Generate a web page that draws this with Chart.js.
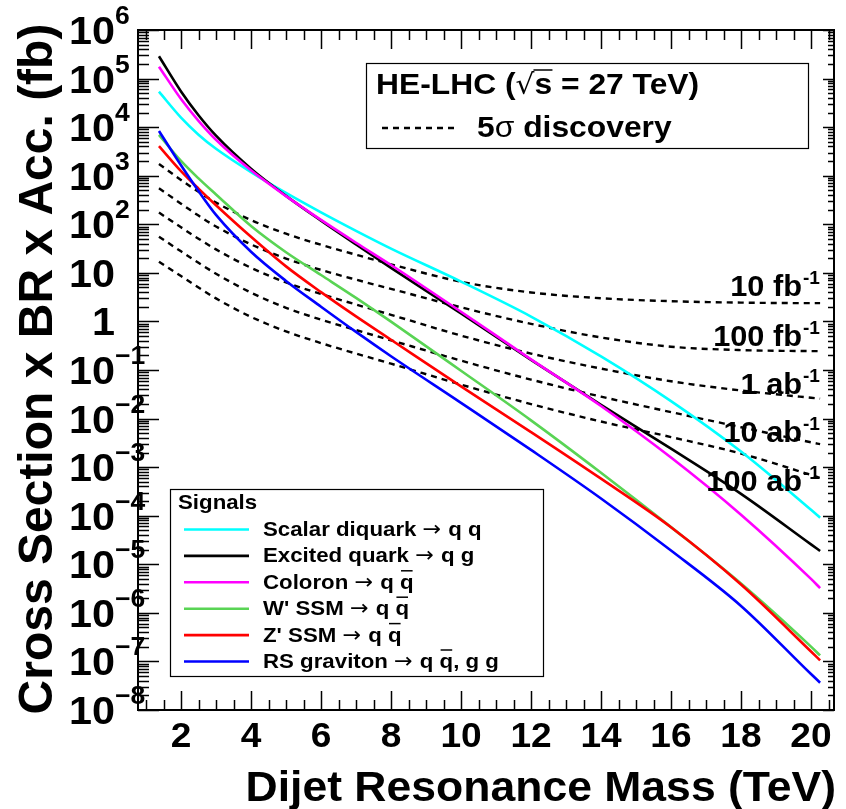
<!DOCTYPE html>
<html>
<head>
<meta charset="utf-8">
<title>Dijet resonances at HE-LHC</title>
<script src="https://cdn.jsdelivr.net/npm/chart.js@4.4.1/dist/chart.umd.min.js"></script>
<style>
  html, body { margin: 0; padding: 0; background: #fff; }
  canvas { display: block; }
</style>
</head>
<body>
<canvas id="chart" width="846" height="809"></canvas>
<script>
const mass = [1.37, 2, 2.5, 3, 4, 5, 6, 7, 8, 10, 12, 14, 16, 18, 20, 20.26];

// signal cross section x BR x acceptance (fb)
const scalarDiquark = [5.37e4, 1.57e4, 7.0e3, 3.59e3, 1.19e3, 442, 176, 73.3, 31.6, 6.61, 1.26, 0.191, 0.0229, 2.09e-3, 1.32e-4, 9.1e-5];
const excitedQuark  = [2.88e5, 5.43e4, 1.76e4, 6.68e3, 1.40e3, 385, 119, 38.5, 12.7, 1.46, 0.162, 0.0191, 2.40e-3, 2.82e-4, 2.57e-5, 1.88e-5];
const coloron       = [1.76e5, 3.8e4, 1.35e4, 5.5e3, 1.29e3, 380, 123, 41.7, 14.5, 1.58, 0.166, 0.0182, 1.58e-3, 1.05e-4, 5.0e-6, 3.24e-6];
const wPrime        = [6.92e3, 2.02e3, 881, 412, 92.3, 26.6, 9.02, 3.05, 0.989, 0.0966, 9.2e-3, 7.67e-4, 5.82e-5, 4.03e-6, 2.02e-7, 1.33e-7];
const zPrime        = [4.07e3, 1.24e3, 541, 247, 55.3, 13.6, 4.01, 1.27, 0.42, 0.046, 5.28e-3, 5.79e-4, 5.79e-5, 3.83e-6, 1.6e-7, 1.05e-7];
const rsGraviton    = [8.32e3, 1.64e3, 483, 156, 27.2, 6.82, 2.01, 0.608, 0.192, 0.0211, 2.26e-3, 2.26e-4, 1.92e-5, 1.39e-6, 5.5e-8, 3.65e-8];

// 5 sigma discovery reach (fb) for each integrated luminosity
const disc10fb  = [1.74e3, 817, 465, 280, 122, 64.1, 37.8, 23.6, 15.0, 6.56, 3.95, 3.0, 2.61, 2.44, 2.38, 2.38];
const disc100fb = [550, 266, 151, 90.2, 38.5, 19.7, 11.5, 7.24, 4.68, 1.95, 0.891, 0.468, 0.302, 0.257, 0.245, 0.244];
const disc1ab   = [174, 86.7, 50.5, 30.4, 12.7, 6.35, 3.66, 2.23, 1.37, 0.511, 0.218, 0.107, 0.0586, 0.0378, 0.0268, 0.0257];
const disc10ab  = [55.5, 27.7, 16.1, 9.6, 3.91, 1.91, 1.09, 0.664, 0.409, 0.156, 0.0634, 0.0283, 0.0136, 6.64e-3, 3.25e-3, 2.97e-3];
const disc100ab = [17.0, 8.59, 5.0, 2.98, 1.24, 0.622, 0.358, 0.218, 0.135, 0.05, 0.0199, 8.69e-3, 4.16e-3, 1.9e-3, 6.9e-4, 6.0e-4];

const lumiLabels = ['10 fb', '100 fb', '1 ab', '10 ab', '100 ab'];
const signalNames = ['Scalar diquark', 'Excited quark', 'Coloron', "W' SSM", "Z' SSM", 'RS graviton'];
const xTicks = [2, 4, 6, 8, 10, 12, 14, 16, 18, 20];
const yDecades = [6, 5, 4, 3, 2, 1, 0, -1, -2, -3, -4, -5, -6, -7, -8];

const FONT = '"Liberation Sans", Arial, Helvetica, sans-serif';
const GREEN = '#59d454';
const colors = ['#00ffff', '#000000', '#ff00ff', GREEN, '#ff0000', '#0000ff'];
const SX = 1.06; // the original text is a little wider than Liberation Sans

const pts = arr => mass.map((m, i) => ({ x: m, y: arr[i] }));

const signalSets = [scalarDiquark, excitedQuark, coloron, wPrime, zPrime, rsGraviton].map((arr, i) => ({
  label: signalNames[i],
  data: pts(arr),
  borderColor: colors[i],
  borderWidth: 2.6,
}));
const discSets = [disc10fb, disc100fb, disc1ab, disc10ab, disc100ab].map((arr, i) => ({
  label: lumiLabels[i],
  data: pts(arr),
  borderColor: '#000',
  borderWidth: 2.4,
  borderDash: [6, 5],
}));

// text drawn slightly stretched, returns its width
function text(ctx, s, x, y, font, align) {
  ctx.save();
  ctx.font = font;
  ctx.textAlign = align || 'left';
  ctx.translate(x, y);
  ctx.scale(SX, 1);
  ctx.fillText(s, 0, 0);
  const w = ctx.measureText(s).width * SX;
  ctx.restore();
  return w;
}

// ROOT-style frame, ticks, labels and the two legend boxes
const decorations = {
  id: 'decorations',
  afterDraw(chart) {
    const { ctx, chartArea: a, scales: { x, y } } = chart;
    ctx.save();
    ctx.fillStyle = '#000';
    ctx.strokeStyle = '#000';
    ctx.textBaseline = 'alphabetic';

    // frame
    ctx.lineWidth = 2;
    ctx.strokeRect(a.left, a.top, a.right - a.left, a.bottom - a.top);

    // x ticks, bottom and top, pointing inward
    ctx.lineWidth = 1.5;
    ctx.beginPath();
    for (let k = 2; k <= 41; k++) {
      const m = k / 2;
      const px = Math.round(x.getPixelForValue(m)) + 0.5;
      if (px <= a.left || px >= a.right) continue;
      const len = m % 2 === 0 ? 19 : 10;
      ctx.moveTo(px, a.bottom); ctx.lineTo(px, a.bottom - len);
      ctx.moveTo(px, a.top); ctx.lineTo(px, a.top + len);
    }
    // y ticks, log scale
    for (let e = -8; e <= 6; e++) {
      for (let k = 1; k <= 9; k++) {
        const v = k * Math.pow(10, e);
        if (v > 1e6 * 1.0001) break;
        const py = Math.round(y.getPixelForValue(v)) + 0.5;
        const major = k === 1;
        ctx.moveTo(a.left, py); ctx.lineTo(a.left + (major ? 21 : 11), py);
        ctx.moveTo(a.right, py); ctx.lineTo(a.right - (major ? 11 : 6), py);
      }
    }
    ctx.stroke();

    // x tick labels
    xTicks.forEach(m => text(ctx, String(m), x.getPixelForValue(m), 747, `bold 35px ${FONT}`, 'center'));

    // y tick labels: 10^n
    yDecades.forEach(e => {
      const py = y.getPixelForValue(Math.pow(10, e));
      const B = `bold 39px ${FONT}`;
      if (e === 0) { text(ctx, '1', 115, py + 14, B, 'right'); return; }
      text(ctx, '10', 115, py + 14, B, 'right');
      if (e === 1) return;
      text(ctx, e < 0 ? '\u2212' + (-e) : String(e), 115, py - 6, `bold 25px ${FONT}`, 'left');
    });

    // axis titles
    text(ctx, 'Dijet Resonance Mass (TeV)', 836, 801, `bold 42px ${FONT}`, 'right');
    ctx.save();
    ctx.translate(52, 369);
    ctx.rotate(-Math.PI / 2);
    ctx.textAlign = 'center';
    ctx.font = `bold 48px ${FONT}`;
    ctx.fillText('Cross Section x BR x Acc. (fb)', 0, 0);
    ctx.restore();

    // luminosity labels on the dashed curves
    const lumiY = [296, 346, 394, 442, 491];
    lumiLabels.forEach((s, i) => {
      text(ctx, s, 802, lumiY[i], `bold 29px ${FONT}`, 'right');
      text(ctx, '-1', 803, lumiY[i] - 12, `bold 18px ${FONT}`, 'left');
    });

    // a run of text pieces, optional overline on a piece
    const run = (pieces, x0, base) => {
      let cx = x0;
      pieces.forEach(p => {
        const w = text(ctx, p.t, cx, base, p.f, 'left');
        if (p.bar) {
          ctx.lineWidth = 1.5;
          ctx.beginPath();
          ctx.moveTo(cx + 1, base - p.bar);
          ctx.lineTo(cx + w - 1, base - p.bar);
          ctx.stroke();
        }
        cx += w;
      });
      return cx;
    };

    // top box
    ctx.lineWidth = 1.2;
    ctx.strokeRect(366.5, 63.5, 442, 85);
    const B30 = `bold 30px ${FONT}`;
    const endRad = run([{ t: 'HE-LHC (', f: B30 }, { t: '\u221a', f: `28px "DejaVu Sans", ${FONT}` }], 376, 94);
    ctx.lineWidth = 1.5;
    ctx.beginPath(); ctx.moveTo(endRad - 1, 70); ctx.lineTo(endRad + 18, 70); ctx.stroke();
    run([{ t: 's = 27 TeV)', f: B30 }], endRad, 94);
    ctx.lineWidth = 2.4;
    ctx.setLineDash([6, 5]);
    ctx.beginPath(); ctx.moveTo(382, 128); ctx.lineTo(454, 128); ctx.stroke();
    ctx.setLineDash([]);
    run([{ t: '5', f: B30 }, { t: '\u03c3', f: `30px ${FONT}` }, { t: ' discovery', f: B30 }], 477, 137);

    // signals box
    ctx.lineWidth = 1.2;
    ctx.strokeRect(170.5, 489.5, 373, 187);
    text(ctx, 'Signals', 178, 509, `bold 21px ${FONT}`, 'left');
    const B21 = `bold 21px ${FONT}`;
    const AR = `21px "DejaVu Sans", ${FONT}`;
    const decay = [
      [{ t: 'q q', f: B21 }],
      [{ t: 'q g', f: B21 }],
      [{ t: 'q ', f: B21 }, { t: 'q', f: B21, bar: 18 }],
      [{ t: 'q ', f: B21 }, { t: 'q', f: B21, bar: 18 }],
      [{ t: 'q ', f: B21 }, { t: 'q', f: B21, bar: 18 }],
      [{ t: 'q ', f: B21 }, { t: 'q', f: B21, bar: 18 }, { t: ', g g', f: B21 }],
    ];
    signalNames.forEach((name, i) => {
      const base = 536 + i * 26.4;
      ctx.strokeStyle = colors[i];
      ctx.lineWidth = 2.6;
      ctx.beginPath(); ctx.moveTo(184, base - 6.5); ctx.lineTo(249, base - 6.5); ctx.stroke();
      ctx.strokeStyle = '#000';
      run([{ t: name + ' ', f: B21 }, { t: '\u2192 ', f: AR }].concat(decay[i]), 263, base);
    });

    ctx.restore();
  }
};

new Chart(document.getElementById('chart'), {
  type: 'line',
  data: { datasets: signalSets.slice().reverse().concat(discSets) },
  options: {
    responsive: false,
    animation: false,
    devicePixelRatio: 1,
    layout: { padding: { left: 138, right: 12, top: 30, bottom: 99 } },
    elements: {
      point: { radius: 0 },
      line: { cubicInterpolationMode: 'monotone', fill: false },
    },
    scales: {
      x: { type: 'linear', min: 0.771, max: 20.657, display: false },
      y: { type: 'logarithmic', min: 1e-8, max: 1e6, display: false },
    },
    plugins: { legend: { display: false }, tooltip: { enabled: false } },
  },
  plugins: [decorations],
});
</script>
</body>
</html>
